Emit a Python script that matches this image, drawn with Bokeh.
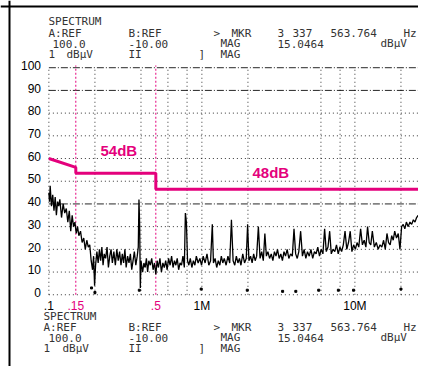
from bokeh.plotting import figure
from bokeh.models import Range1d, Span
from bokeh.core.properties import value
from bokeh.embed import file_html
from bokeh.resources import INLINE

# ---------------- data ----------------
trace_freq_mhz = [
    0.100, 0.101, 0.102, 0.104, 0.106, 0.108, 0.110, 0.112, 0.114, 0.116,
    0.118, 0.121, 0.124, 0.127, 0.130, 0.133, 0.136, 0.139, 0.142, 0.145,
    0.148, 0.151, 0.154, 0.157, 0.161, 0.165, 0.169, 0.173, 0.177, 0.181,
    0.185, 0.189, 0.193, 0.196, 0.199, 0.202, 0.206, 0.210, 0.214, 0.218,
    0.222, 0.226, 0.230, 0.235, 0.240, 0.245, 0.250, 0.255, 0.260, 0.266,
    0.272, 0.278, 0.284, 0.290, 0.296, 0.302, 0.308, 0.314, 0.320, 0.327,
    0.334, 0.341, 0.348, 0.355, 0.362, 0.370, 0.378, 0.384, 0.388, 0.392,
    0.396, 0.400, 0.410, 0.418, 0.426, 0.434, 0.442, 0.450, 0.460, 0.470,
    0.480, 0.490, 0.500, 0.510, 0.520, 0.532, 0.544, 0.556, 0.568, 0.580,
    0.593, 0.606, 0.620, 0.634, 0.648, 0.662, 0.676, 0.690, 0.705, 0.720,
    0.736, 0.752, 0.768, 0.780, 0.792, 0.806, 0.822, 0.840, 0.860, 0.880,
    0.900, 0.920, 0.945, 0.970, 0.995, 1.02, 1.05, 1.08, 1.11, 1.14,
    1.17, 1.19, 1.22, 1.25, 1.28, 1.31, 1.34, 1.37, 1.40, 1.44,
    1.48, 1.52, 1.56, 1.60, 1.64, 1.68, 1.72, 1.76, 1.80, 1.85,
    1.90, 1.95, 1.99, 2.03, 2.08, 2.13, 2.18, 2.23, 2.28, 2.34,
    2.40, 2.46, 2.52, 2.58, 2.64, 2.70, 2.77, 2.84, 2.91, 2.98,
    3.05, 3.12, 3.20, 3.28, 3.36, 3.44, 3.52, 3.61, 3.70, 3.80,
    3.90, 4.00, 4.10, 4.20, 4.30, 4.42, 4.54, 4.66, 4.78, 4.90,
    5.03, 5.16, 5.30, 5.44, 5.58, 5.72, 5.87, 6.02, 6.18, 6.34,
    6.50, 6.67, 6.84, 7.01, 7.20, 7.39, 7.58, 7.78, 7.98, 8.19,
    8.40, 8.62, 8.85, 9.08, 9.32, 9.56, 9.81, 10.07, 10.33, 10.60,
    10.90, 11.20, 11.50, 11.80, 12.10, 12.40, 12.70, 13.00, 13.40, 13.80,
    14.20, 14.60, 15.00, 15.40, 15.80, 16.20, 16.60, 17.00, 17.40, 17.80,
    18.20, 18.70, 19.20, 19.70, 20.20, 20.70, 21.20, 21.70, 22.30, 22.90,
    23.50, 24.10, 24.70, 25.30, 25.90, 26.50, 27.10, 27.50,
]
trace_level_dbuv = [
    44, 40, 47, 38, 43, 36, 42, 34, 40, 38,
    41, 33, 39, 35, 37, 31, 36, 27, 34, 29,
    31, 26, 29, 25, 27, 22, 24, 19, 23, 20,
    21, 14, 10, 16, 3, 12, 18, 13, 19, 14,
    20, 12, 17, 15, 20, 11, 16, 19, 13, 18,
    12, 19, 14, 18, 12, 17, 13, 19, 11, 16,
    13, 17, 10, 14, 18, 12, 16, 20, 41, 30,
    2, 14, 9, 13, 11, 15, 9, 14, 12, 15,
    10, 13, 8, 14, 11, 15, 9, 13, 11, 14,
    10, 15, 12, 16, 11, 14, 12, 15, 10, 13,
    12, 16, 11, 35, 31, 14, 12, 15, 11, 14,
    12, 16, 13, 15, 12, 16, 13, 17, 12, 14,
    30, 13, 15, 11, 14, 12, 16, 13, 15, 12,
    16, 13, 32, 14, 12, 16, 13, 15, 12, 17,
    13, 15, 30, 14, 16, 13, 17, 14, 16, 29,
    15, 18, 14, 26, 16, 18, 15, 17, 14, 18,
    16, 19, 15, 17, 14, 18, 16, 19, 15, 17,
    16, 28, 17, 15, 18, 27, 16, 19, 15, 18,
    16, 19, 15, 18, 17, 20, 16, 19, 17, 28,
    18, 20, 27, 17, 19, 18, 21, 17, 20, 18,
    21, 27, 19, 22, 27, 18, 21, 19, 22, 20,
    28, 21, 23, 20, 29, 22, 21, 27, 20, 22,
    19, 21, 20, 23, 19, 26, 22, 21, 25, 23,
    27, 24, 26, 19, 29, 30, 28, 31, 29, 31,
    30, 32, 31, 33, 34, 33, 35, 28,
]
assert len(trace_freq_mhz) == len(trace_level_dbuv)

floor_dot_freq = [0.19, 0.20, 0.39, 0.99, 1.98, 3.37, 4.11, 5.8, 7.8, 9.8, 20.0]
floor_dot_level = [2, 0, 1, 1.5, 1, 0.5, 0.5, 1, 1, 1, 1.5]

limit_freq = [0.1, 0.15, 0.15, 0.5, 0.5, 30.0]
limit_level = [59.0, 55.1, 52.5, 52.5, 45.5, 45.5]
limit_marker_freq = [0.15, 0.5]

grid_db_strong = [99, 89, 39]
grid_db_light = [79, 69, 59, 49, 29, 19, 9, -1]
grid_freq = [0.1, 0.2, 0.4, 0.6, 0.8, 1, 2, 6, 8, 10, 20]

y_ticks = [0, 10, 20, 30, 40, 50, 60, 70, 80, 90, 100]
y_tick_labels = [str(v) for v in y_ticks]
x_ticks = [0.1, 0.15, 0.5, 1, 10]
x_tick_labels = [".1", ".15", ".5", "1M", "10M"]

MAG = "#E4007C"
x_tick_colors = ["black", MAG, MAG, "black", "black"]

# ---------------- frame calibration ----------------
W, H = 418, 366
X0, X1 = 0.0483, 26.04
Y0, Y1 = -32.6, 128.6


def fx(px):
    return X0 * (X1 / X0) ** (px / W)


def fy(py):
    return Y1 - py / H * (Y1 - Y0)


p = figure(width=W, height=H, x_axis_type="log",
           x_range=Range1d(X0, X1), y_range=Range1d(Y0, Y1),
           x_axis_location=None, y_axis_location=None,
           output_backend="svg", toolbar_location=None, min_border=0)
p.grid.visible = False
p.outline_line_color = None
p.background_fill_color = "white"
p.border_fill_color = "white"

# graticule
p.segment(x0=[0.1] * len(grid_db_strong), y0=grid_db_strong,
          x1=[X1] * len(grid_db_strong), y1=grid_db_strong,
          line_color="black", line_width=1, line_dash="7 2 1 2", line_alpha=0.85)
p.segment(x0=[0.1] * len(grid_db_light), y0=grid_db_light,
          x1=[X1] * len(grid_db_light), y1=grid_db_light,
          line_color="black", line_width=1, line_dash="1 3", line_alpha=0.8)
p.segment(x0=grid_freq, y0=[-1] * len(grid_freq),
          x1=grid_freq, y1=[99] * len(grid_freq),
          line_color="black", line_width=1, line_dash="1 3", line_alpha=0.8)

# limit markers and line
p.segment(x0=limit_marker_freq, y0=[-1, -1], x1=limit_marker_freq, y1=[100, 100],
          line_color=MAG, line_width=1, line_dash="2 2")
p.line(limit_freq, limit_level, line_color=MAG, line_width=3)

# measured trace
p.line(trace_freq_mhz, trace_level_dbuv, line_color="black", line_width=1.3)
p.scatter(floor_dot_freq, floor_dot_level, marker="square", size=2,
          color="black")

# limit labels
p.text(x=[fx(100)], y=[fy(150)], text=["54dB"], text_color=MAG,
       text_font=value("Liberation Sans"), text_font_size="15px",
       text_font_style="bold", text_baseline="middle", text_align="left")
p.text(x=[fx(252)], y=[fy(171.5)], text=["48dB"], text_color=MAG,
       text_font=value("Liberation Sans"), text_font_size="15px",
       text_font_style="bold", text_baseline="middle", text_align="left")

# tick labels
p.text(x=[fx(40.5)] * len(y_ticks), y=y_ticks, text=y_tick_labels,
       text_color="black", text_font=value("Liberation Sans"),
       text_font_size="12px", text_baseline="middle", text_align="right")
p.text(x=x_ticks, y=[fy(305)] * len(x_ticks), text=x_tick_labels,
       text_color=x_tick_colors, text_font=value("Liberation Sans"),
       text_font_size="12px", text_baseline="middle", text_align="center")

# instrument header (top and repeated at the bottom)
header_top = [
    ("SPECTRUM", 48, 21),
    ("A:REF", 48, 32.5), ("B:REF", 128, 32.5), (">", 213, 32.5), ("MKR", 231, 32.5),
    ("3", 277, 32.5), ("337", 292, 32.5), ("563.764", 330, 32.5), ("Hz", 403, 32.5),
    ("100.0", 52, 43), ("-10.00", 128, 43), ("MAG", 220, 43),
    ("15.0464", 277, 43), ("dBμV", 380, 43),
    ("1", 48, 53.5), ("dBμV", 66, 53.5), ("II", 128, 53.5), ("]", 198, 53.5),
    ("MAG", 220, 53.5),
]
header_bottom = [
    ("SPECTRUM", 43, 315.7),
    ("A:REF", 43, 326.7), ("B:REF", 128, 326.7), (">", 213, 326.7), ("MKR", 231, 326.7),
    ("3", 277, 326.7), ("337", 292, 326.7), ("563.764", 330, 326.7), ("Hz", 403, 326.7),
    ("100.0", 48, 337.3), ("-10.00", 128, 337.3), ("MAG", 220, 337.3),
    ("15.0464", 277, 337.3), ("dBμV", 380, 337.3),
    ("1", 43, 347.7), ("dBμV", 62, 347.7), ("II", 128, 347.7), ("]", 198, 347.7),
    ("MAG", 220, 347.7),
]
for pieces in (header_top, header_bottom):
    p.text(x=[fx(a) for _, a, _ in pieces], y=[fy(b) for _, _, b in pieces],
           text=[t for t, _, _ in pieces], text_color="#333333",
           text_font=value("DejaVu Sans Mono"), text_font_size="11px",
           text_baseline="middle", text_align="left")

# frame border (left and top)
p.add_layout(Span(location=fx(9), dimension="height", line_color="black", line_width=2))
p.add_layout(Span(location=fy(6), dimension="width", line_color="black", line_width=2))

open("out.html", "w").write(file_html(p, INLINE))
